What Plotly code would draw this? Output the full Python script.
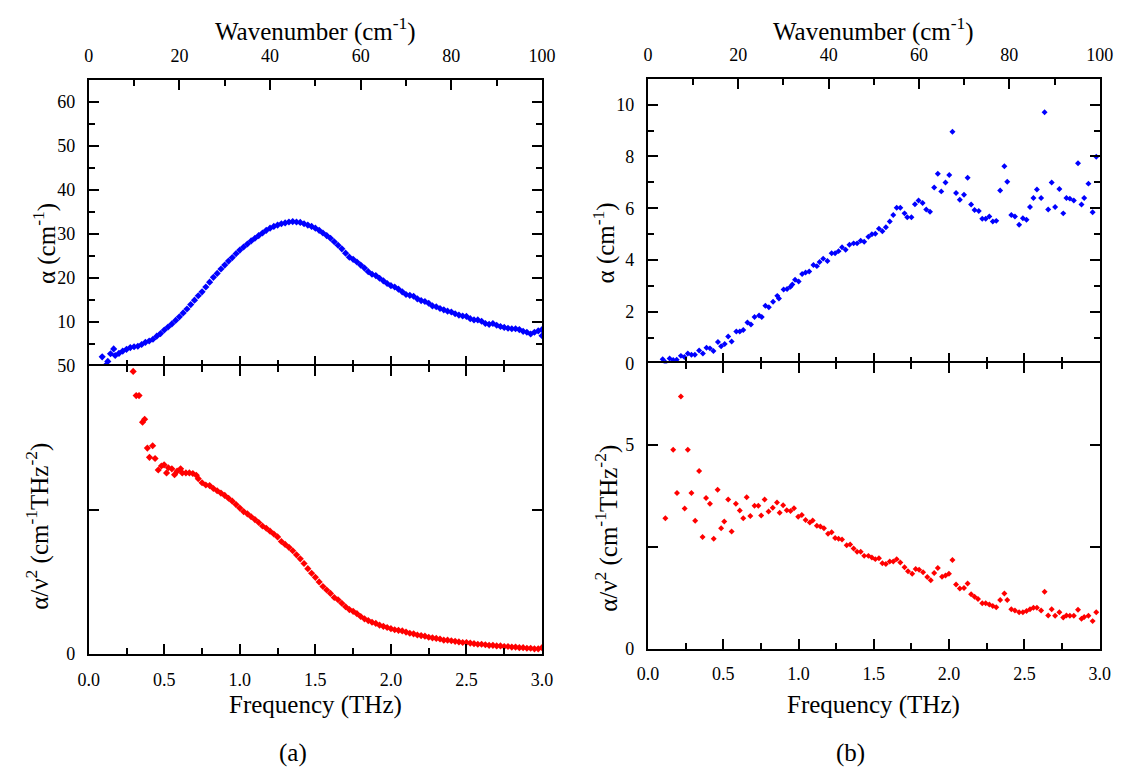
import plotly.graph_objects as go

# ---------------- data ----------------
# (a) top: absorption coefficient alpha (cm^-1) vs frequency (THz)
a_top_f = [0.089, 0.111, 0.126, 0.144, 0.165,
           0.175, 0.200, 0.225, 0.250, 0.275, 0.300, 0.325, 0.350, 0.375, 0.400,
           0.425, 0.450, 0.475, 0.500, 0.525, 0.550, 0.575, 0.600, 0.625, 0.650,
           0.675, 0.700, 0.725, 0.750, 0.775, 0.800, 0.825, 0.850, 0.875, 0.900,
           0.925, 0.950, 0.975, 1.000, 1.025, 1.050, 1.075, 1.100, 1.125, 1.150,
           1.175, 1.200, 1.225, 1.250, 1.275, 1.300, 1.325, 1.350, 1.375, 1.400,
           1.425, 1.450, 1.475, 1.500, 1.525, 1.550, 1.575, 1.600, 1.625, 1.650,
           1.675, 1.700, 1.725, 1.750, 1.775, 1.800, 1.825, 1.850, 1.875, 1.900,
           1.925, 1.950, 1.975, 2.000, 2.025, 2.050, 2.075, 2.100, 2.125, 2.150,
           2.175, 2.200, 2.225, 2.250, 2.275, 2.300, 2.325, 2.350, 2.375, 2.400,
           2.425, 2.450, 2.475, 2.500, 2.525, 2.550, 2.575, 2.600, 2.625, 2.650,
           2.675, 2.700, 2.725, 2.750, 2.775, 2.800, 2.825, 2.850, 2.875, 2.900,
           2.925, 2.950, 2.975, 3.000, 3.000]
a_top_alpha = [2.0, 0.0, 0.95, 2.7, 3.8,
               2.3, 2.8, 3.3, 3.7, 4.1, 4.3, 4.4, 4.8, 5.3, 5.6,
               6.0, 6.7, 7.3, 8.1, 8.8, 9.5, 10.3, 11.1, 12.0, 12.9,
               13.9, 14.9, 15.9, 16.8, 17.9, 19.0, 20.1, 21.0, 22.0, 22.9,
               23.8, 24.6, 25.5, 26.3, 27.0, 27.7, 28.4, 29.0, 29.6, 30.2,
               30.8, 31.3, 31.7, 32.0, 32.3, 32.5, 32.7, 32.8, 32.7, 32.6,
               32.3, 32.0, 31.7, 31.3, 30.8, 30.2, 29.6, 29.0, 28.2, 27.4,
               26.6, 25.6, 24.7, 24.2, 23.6, 22.9, 22.2, 21.4, 20.8, 20.5,
               19.9, 19.3, 18.7, 18.2, 17.9, 17.4, 16.8, 16.2, 16.0, 15.8,
               15.2, 14.8, 14.6, 14.2, 13.6, 13.4, 13.0, 12.7, 12.4, 12.2,
               11.8, 11.5, 11.3, 11.2, 10.7, 10.4, 10.4, 10.1, 9.6, 9.4,
               9.6, 9.2, 8.9, 8.7, 8.5, 8.4, 8.4, 8.2, 7.8, 7.6,
               7.2, 7.6, 7.9, 8.2, 6.8]

# (a) bottom: alpha / nu^2 (cm^-1 THz^-2) vs frequency (THz)
a_bot_f = [0.294, 0.314, 0.333, 0.356, 0.370, 0.388, 0.402, 0.423, 0.439, 0.460,
           0.481, 0.499, 0.515, 0.527, 0.550, 0.568, 0.585, 0.608, 0.619, 0.643,
           0.666, 0.689, 0.712,
           0.725, 0.750, 0.775, 0.800, 0.825, 0.850, 0.875, 0.900, 0.925, 0.950,
           0.975, 1.000, 1.025, 1.050, 1.075, 1.100, 1.125, 1.150, 1.175, 1.200,
           1.225, 1.250, 1.275, 1.300, 1.325, 1.350, 1.375, 1.400, 1.425, 1.450,
           1.475, 1.500, 1.525, 1.550, 1.575, 1.600, 1.625, 1.650, 1.675, 1.700,
           1.725, 1.750, 1.775, 1.800, 1.825, 1.850, 1.875, 1.900, 1.925, 1.950,
           1.975, 2.000, 2.025, 2.050, 2.075, 2.100, 2.125, 2.150, 2.175, 2.200,
           2.225, 2.250, 2.275, 2.300, 2.325, 2.350, 2.375, 2.400, 2.425, 2.450,
           2.475, 2.500, 2.525, 2.550, 2.575, 2.600, 2.625, 2.650, 2.675, 2.700,
           2.725, 2.750, 2.775, 2.800, 2.825, 2.850, 2.875, 2.900, 2.925, 2.950,
           2.975, 3.000]
a_bot_val = [49.0, 44.8, 44.8, 40.2, 40.7, 35.7, 34.1, 36.1, 33.9, 31.9,
             32.6, 32.8, 31.4, 32.3, 32.1, 31.1, 31.7, 32.1, 31.4, 31.4,
             31.4, 31.3, 31.0,
             30.4, 29.7, 29.3, 29.2, 28.7, 28.3, 27.9, 27.5, 27.0, 26.5,
             25.9, 25.3, 24.7, 24.3, 23.8, 23.3, 22.8, 22.2, 21.8, 21.3,
             20.8, 20.3, 19.5, 19.0, 18.5, 17.9, 17.2, 16.5, 15.7, 14.8,
             14.0, 13.3, 12.5, 11.7, 11.1, 10.5, 9.8, 9.4, 8.8, 8.2,
             7.7, 7.4, 7.0, 6.5, 6.1, 5.8, 5.5, 5.3, 5.0, 4.8,
             4.6, 4.4, 4.2, 4.1, 4.0, 3.8, 3.6, 3.5, 3.3, 3.2,
             3.1, 2.9, 2.8, 2.7, 2.6, 2.4, 2.4, 2.3, 2.2, 2.1,
             2.0, 2.0, 1.9, 1.8, 1.7, 1.7, 1.6, 1.5, 1.5, 1.4,
             1.4, 1.3, 1.3, 1.2, 1.2, 1.1, 1.1, 1.0, 1.0, 0.9,
             0.9, 1.1]

# (b) top: alpha (cm^-1) vs frequency (THz)
b_f = [0.098, 0.116, 0.144, 0.168, 0.191, 0.219, 0.242, 0.265, 0.289, 0.312,
       0.340, 0.365, 0.389, 0.412, 0.435, 0.465, 0.486, 0.510, 0.533, 0.556,
       0.587, 0.610, 0.633, 0.661, 0.684, 0.708, 0.738, 0.756, 0.780, 0.803,
       0.831, 0.859, 0.870, 0.901, 0.924, 0.947, 0.959, 0.977, 1.001, 1.024,
       1.047, 1.071, 1.099, 1.122, 1.140, 1.164, 1.192, 1.220, 1.243, 1.266,
       1.289, 1.313, 1.338, 1.366, 1.389, 1.413, 1.436, 1.464, 1.487, 1.510,
       1.534, 1.557, 1.580, 1.606, 1.629, 1.652, 1.676, 1.704, 1.722, 1.750,
       1.773, 1.797, 1.824, 1.848, 1.873, 1.901, 1.925, 1.948, 1.976, 2.001,
       2.022, 2.046, 2.071, 2.099, 2.123, 2.146, 2.169, 2.197, 2.220, 2.243,
       2.267, 2.290, 2.313, 2.339, 2.367, 2.386, 2.413, 2.437, 2.465, 2.490,
       2.514, 2.537, 2.560, 2.583, 2.611, 2.634, 2.658, 2.681, 2.704, 2.732,
       2.758, 2.779, 2.802, 2.828, 2.856, 2.879, 2.897, 2.925, 2.953, 2.977]
b_top_alpha = [0.16, 0.04, 0.19, 0.13, 0.14, 0.29, 0.25, 0.38, 0.33, 0.33,
               0.50, 0.38, 0.60, 0.58, 0.48, 0.83, 0.66, 0.75, 1.04, 0.85,
               1.23, 1.23, 1.29, 1.58, 1.50, 1.79, 1.85, 1.79, 2.23, 2.17,
               2.38, 2.61, 2.51, 2.86, 2.88, 2.96, 3.05, 3.23, 3.17, 3.46,
               3.51, 3.55, 3.80, 3.76, 3.92, 4.05, 3.96, 4.26, 4.26, 4.34,
               4.49, 4.39, 4.59, 4.64, 4.64, 4.74, 4.70, 4.90, 4.99, 5.01,
               5.21, 5.11, 5.26, 5.49, 5.74, 6.02, 6.02, 5.80, 5.65, 5.65,
               6.15, 6.30, 6.20, 5.95, 5.86, 6.80, 7.33, 6.65, 6.99, 7.28,
               8.96, 6.59, 6.33, 6.52, 7.18, 6.14, 5.93, 5.89, 5.59, 5.59,
               5.68, 5.49, 5.51, 6.68, 7.62, 7.02, 5.74, 5.68, 5.36, 5.61,
               5.55, 6.05, 6.39, 6.72, 6.39, 9.71, 5.95, 6.99, 6.05, 6.74,
               5.80, 6.39, 6.37, 6.30, 7.74, 6.14, 6.39, 6.95, 5.84, 7.99]
# (b) bottom: alpha / nu^2 vs frequency (THz)
b_bot_f = [0.116, 0.168, 0.193, 0.219, 0.244, 0.265, 0.289, 0.314, 0.340, 0.363,
           0.386, 0.412, 0.437, 0.463, 0.486, 0.507, 0.533, 0.556, 0.584, 0.610,
           0.633, 0.656, 0.680, 0.708, 0.733, 0.752, 0.775, 0.801, 0.829, 0.857,
           0.875, 0.898, 0.922, 0.947, 0.970, 0.998, 1.022, 1.047, 1.075, 1.094,
           1.122, 1.145, 1.169, 1.196, 1.220, 1.243, 1.266, 1.289, 1.320, 1.343,
           1.366, 1.389, 1.413, 1.436, 1.464, 1.487, 1.510, 1.534, 1.557, 1.580,
           1.606, 1.629, 1.652, 1.676, 1.704, 1.727, 1.755, 1.778, 1.801, 1.827,
           1.855, 1.878, 1.901, 1.925, 1.953, 1.976, 1.999, 2.022, 2.046, 2.071,
           2.099, 2.123, 2.146, 2.169, 2.192, 2.220, 2.243, 2.267, 2.290, 2.313,
           2.339, 2.367, 2.386, 2.413, 2.437, 2.465, 2.490, 2.514, 2.537, 2.560,
           2.583, 2.611, 2.634, 2.658, 2.681, 2.704, 2.732, 2.758, 2.779, 2.802,
           2.828, 2.856, 2.879, 2.897, 2.925, 2.953, 2.977]
b_bot_val = [3.20, 4.88, 3.82, 6.19, 3.44, 4.88, 3.82, 3.14, 4.36, 2.74,
             3.70, 3.56, 2.70, 3.90, 2.96, 3.12, 3.66, 2.88, 3.56, 3.39,
             3.20, 3.72, 3.26, 3.51, 3.51, 3.27, 3.66, 3.37, 3.46, 3.59,
             3.34, 3.52, 3.40, 3.38, 3.45, 3.24, 3.28, 3.16, 3.10, 3.15,
             3.02, 3.00, 2.96, 2.82, 2.86, 2.72, 2.70, 2.68, 2.54, 2.56,
             2.46, 2.38, 2.38, 2.28, 2.28, 2.24, 2.20, 2.22, 2.10, 2.08,
             2.14, 2.14, 2.20, 2.12, 2.00, 1.90, 1.84, 1.96, 1.94, 1.88,
             1.76, 1.68, 1.86, 1.98, 1.77, 1.80, 1.84, 2.18, 1.58, 1.48,
             1.49, 1.60, 1.34, 1.28, 1.22, 1.12, 1.12, 1.09, 1.05, 1.02,
             1.20, 1.36, 1.20, 0.97, 0.94, 0.90, 0.90, 0.93, 0.97, 1.01,
             1.01, 0.94, 1.40, 0.82, 0.97, 0.81, 0.90, 0.77, 0.82, 0.81,
             0.81, 0.96, 0.74, 0.78, 0.81, 0.68, 0.90]

# tick values / labels
freq_ticks = [0, 0.5, 1.0, 1.5, 2.0, 2.5, 3.0]
freq_minor = [0.25, 0.75, 1.25, 1.75, 2.25, 2.75]
wn_ticks = [0, 20, 40, 60, 80, 100]
wn_minor = [10, 30, 50, 70, 90]
a_top_ticks = [10, 20, 30, 40, 50, 60]
a_top_minor = [5, 15, 25, 35, 45, 55]
a_bot_ticks = [0, 25, 50]
a_bot_text = ["0", "", "50"]
b_top_ticks = [0, 2, 4, 6, 8, 10]
b_top_minor = [1, 3, 5, 7, 9]
b_bot_ticks = [0, 2.5, 5]
b_bot_text = ["0", "", "5"]

# ---------------- layout helpers ----------------
W, H = 1132, 778
FONT = "Liberation Serif, Times New Roman, serif"
BLUE = "#0000ff"
RED = "#ff0000"


def fx(p):
    return p / W


def fy(p):
    return 1 - p / H


L_X = [fx(79.5), fx(543.0)]
L_TOP = [fy(365.0), fy(72.0)]
L_BOT = [fy(661.0), fy(365.0)]
R_X = [fx(651.3), fx(1113.3)]
R_TOP = [fy(362.7), fy(70.7)]
R_BOT = [fy(655.7), fy(362.7)]

tickfont = dict(family=FONT, size=18, color="black")
base = dict(showline=True, linecolor="black", linewidth=2, ticks="inside",
            tickcolor="black", tickwidth=2, ticklen=10, showgrid=False,
            zeroline=False, tickfont=tickfont, tickmode="array")


def minor(vals):
    return dict(tickvals=vals, ticks="inside", ticklen=6, tickwidth=2,
                tickcolor="black", showgrid=False)


fig = go.Figure()
mk_a = dict(symbol="diamond", size=5.5, line=dict(width=0))
mk_b = dict(symbol="diamond", size=4.6, line=dict(width=0))

fig.add_trace(go.Scatter(x=a_top_f, y=a_top_alpha, mode="markers",
                         marker=dict(color=BLUE, **mk_a), xaxis="x", yaxis="y"))
fig.add_trace(go.Scatter(x=[], y=[], mode="markers", xaxis="x2", yaxis="y"))
fig.add_trace(go.Scatter(x=a_bot_f, y=a_bot_val, mode="markers",
                         marker=dict(color=RED, **mk_a), xaxis="x3", yaxis="y3"))
fig.add_trace(go.Scatter(x=b_f, y=b_top_alpha, mode="markers",
                         marker=dict(color=BLUE, **mk_b), xaxis="x4", yaxis="y4"))
fig.add_trace(go.Scatter(x=[], y=[], mode="markers", xaxis="x5", yaxis="y4"))
fig.add_trace(go.Scatter(x=b_bot_f, y=b_bot_val, mode="markers",
                         marker=dict(color=RED, **mk_b), xaxis="x6", yaxis="y6"))

fig.update_layout(
    width=W, height=H, autosize=False, showlegend=False,
    margin=dict(l=0, r=0, t=0, b=0, pad=0),
    paper_bgcolor="white", plot_bgcolor="white",
    font=dict(family=FONT, size=18, color="black"),
    # ----- panel (a) -----
    xaxis=dict(base, domain=L_X, anchor="y", range=[0, 3], tickvals=freq_ticks,
               showticklabels=False, showline=False, minor=minor(freq_minor)),
    xaxis2=dict(base, overlaying="x", anchor="y", side="top", range=[0, 100],
                tickvals=wn_ticks, minor=minor(wn_minor), ticklabelstandoff=9),
    yaxis=dict(base, domain=L_TOP, anchor="x", range=[0, 65], tickvals=a_top_ticks,
               mirror="ticks", minor=minor(a_top_minor), ticklabelstandoff=8),
    xaxis3=dict(base, domain=L_X, anchor="y3", range=[0, 3], tickvals=freq_ticks,
                tickformat=".1f", mirror="ticks", minor=minor(freq_minor),
                ticklabelstandoff=8),
    yaxis3=dict(base, domain=L_BOT, anchor="x3", range=[0, 50], tickvals=a_bot_ticks,
                ticktext=a_bot_text, mirror="ticks", ticklabelstandoff=8),
    # ----- panel (b) -----
    xaxis4=dict(base, domain=R_X, anchor="y4", range=[0, 3], tickvals=freq_ticks,
                showticklabels=False, showline=False, minor=minor(freq_minor)),
    xaxis5=dict(base, overlaying="x4", anchor="y4", side="top", range=[0, 100],
                tickvals=wn_ticks, minor=minor(wn_minor), ticklabelstandoff=9),
    yaxis4=dict(base, domain=R_TOP, anchor="x4", range=[0, 11], tickvals=b_top_ticks,
                mirror="ticks", minor=minor(b_top_minor), ticklabelstandoff=8),
    xaxis6=dict(base, domain=R_X, anchor="y6", range=[0, 3], tickvals=freq_ticks,
                tickformat=".1f", mirror="ticks", minor=minor(freq_minor),
                ticklabelstandoff=8),
    yaxis6=dict(base, domain=R_BOT, anchor="x6", range=[0, 7], tickvals=b_bot_ticks,
                ticktext=b_bot_text, mirror="ticks", ticklabelstandoff=8),
)

TF = dict(family=FONT, size=25, color="black")


def ann(text, x, y, angle=0):
    fig.add_annotation(text=text, x=fx(x), y=fy(y), xref="paper", yref="paper",
                       showarrow=False, textangle=angle, font=TF,
                       xanchor="center", yanchor="middle")


wn_title = "Wavenumber (cm<sup>-1</sup>)"
f_title = "Frequency (THz)"
a_title = "α (cm<sup>-1</sup>)"
r_title = "α/ν<sup>2</sup> (cm<sup>-1</sup>THz<sup>-2</sup>)"

ann(wn_title, 311, 20)
ann(wn_title, 882, 20)
ann(f_title, 311, 713)
ann(f_title, 882, 713)
ann("(a)", 288, 763)
ann("(b)", 858, 763)
ann(a_title, 35, 240, -90)
ann(a_title, 607, 239, -90)
ann(r_title, 27, 530, -90)
ann(r_title, 609, 532, -90)

fig.write_html("out.html")
